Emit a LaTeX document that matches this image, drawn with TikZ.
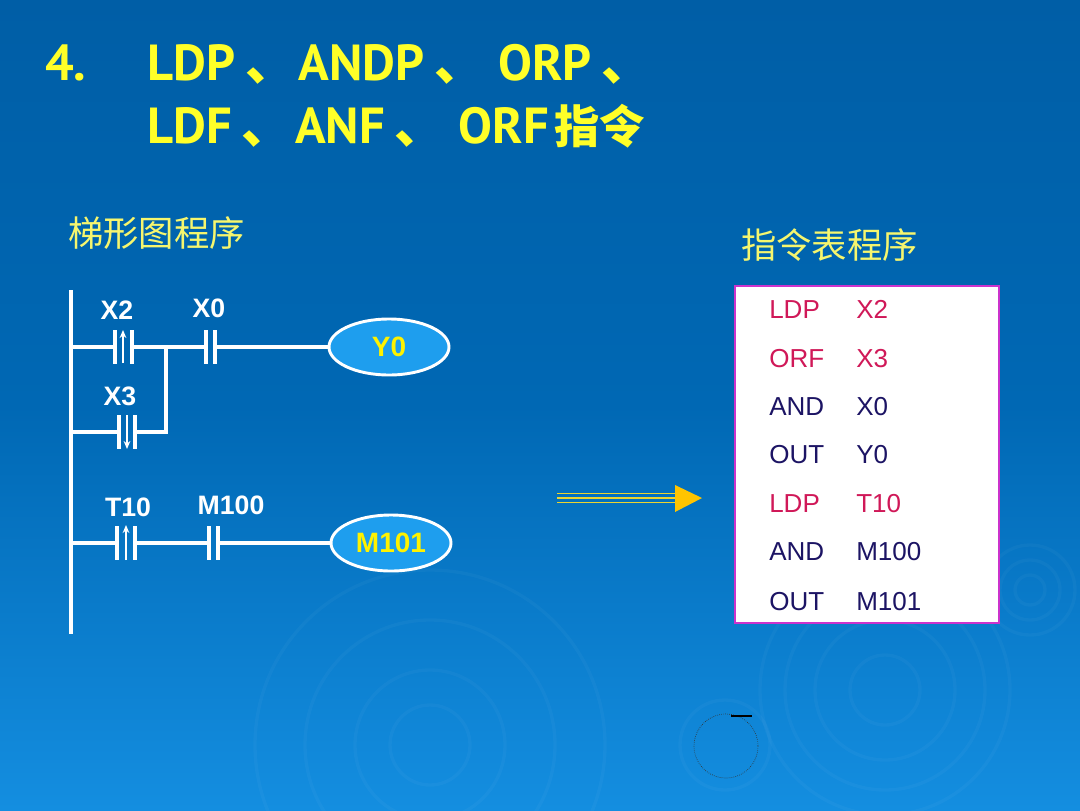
\documentclass[tikz,border=0pt]{standalone}
\usepackage{fontspec}
\setmainfont{Liberation Sans}
\newfontfamily\titlefont{PT Sans}
\newfontfamily\cjk{Noto Sans CJK SC}
\usepackage{tikz}
\usetikzlibrary{shapes.geometric,arrows.meta}
\definecolor{bgtop}{RGB}{0,94,166}
\definecolor{bgmid}{RGB}{0,104,180}
\definecolor{bgbot}{RGB}{20,142,224}
\definecolor{titleyellow}{RGB}{255,255,40}
\definecolor{subyellow}{RGB}{246,246,110}
\definecolor{coilblue}{RGB}{30,158,238}
\definecolor{instred}{RGB}{208,24,88}
\definecolor{instnavy}{RGB}{28,20,100}
\definecolor{tableframe}{RGB}{204,51,204}
\definecolor{arrowgold}{RGB}{255,196,0}
\definecolor{arrowline}{RGB}{236,212,48}
\def\contact(#1,#2,#3){\draw[plate] (#1,#3-17) -- (#1,#3+17); \draw[plate] (#2,#3-17) -- (#2,#3+17);}
\def\dun{\hspace{7.5pt}{\cjk 、}\hspace{2pt}}

\begin{document}
\begin{tikzpicture}[x=0.75pt, y=-0.75pt,
		wire/.style={white, line width=3pt},
		plate/.style={white, line width=3pt},
		edge/.style={white, line width=1.5pt, -{Stealth[length=6pt,width=5pt]}},
		lbl/.style={white, font=\bfseries\fontsize{20}{20}\selectfont, inner sep=0pt},
		coil/.style={ellipse, draw=white, line width=2.2pt, fill=coilblue, minimum width=90pt, minimum height=42pt, inner sep=0pt, text=yellow, font=\bfseries\fontsize{21}{21}\selectfont},
		ins/.style={anchor=base west, inner sep=0pt, font=\fontsize{19.5}{20}\selectfont},
		head/.style={anchor=base west, inner sep=0pt, text=titleyellow, font=\titlefont\bfseries\fontsize{38}{38}\selectfont},
		ripple/.style={white, opacity=0.03, line width=2.5pt}]
			%%%%% START %%%%%
			
			\shade[top color=bgtop, bottom color=bgbot, middle color=bgmid] (0,0) rectangle (1080,810);
			\useasboundingbox (0,0) rectangle (1080,810);
			
			% ripples
			\draw[ripple] (430,745) circle (40);
			\draw[ripple] (430,745) circle (75);
			\draw[ripple] (430,745) circle (125);
			\draw[ripple] (430,745) circle (175);
			\draw[ripple] (885,690) circle (35);
			\draw[ripple] (885,690) circle (70);
			\draw[ripple] (885,690) circle (100);
			\draw[ripple] (885,690) circle (125);
			\draw[ripple] (1030,590) circle (15);
			\draw[ripple] (1030,590) circle (30);
			\draw[ripple] (1030,590) circle (45);
			\draw[ripple] (725,745) circle (45);
			\draw[black!80, densely dotted, line width=0.5pt] (726,746) circle (32);
			\draw[black, line width=0.8pt] (731,716) -- (752,716);
			
			% title
			\node[head] (num) at (45,80) {4.};
			\node[head] (title1) at (147,80) {LDP\dun ANDP\dun\hspace{8pt}ORP\dun};
			\node[head] (title2) at (147,143) {LDF\dun ANF\dun\hspace{8pt}ORF\hspace{4pt}{\cjk\bfseries\fontsize{34}{34}\selectfont 指令}};
			
			\node[anchor=base west, inner sep=0pt, text=subyellow, font=\cjk\fontsize{26.5}{26.5}\selectfont] (ladhead) at (68,246) {梯形图程序};
			\node[anchor=base west, inner sep=0pt, text=subyellow, font=\cjk\fontsize{26.5}{26.5}\selectfont] (listhead) at (741,258) {指令表程序};
			
			% ladder
			\draw[wire] (71,290) -- (71,634);
			
			\node[coil] (y0) at (389,347) {Y0};
			\node[coil] (m101) at (391,543) {M101};
			
			\node[lbl] (lblX2) at (117,310) {X2};
			\node[lbl] (lblX0) at (209,308) {X0};
			\node[lbl] (lblX3) at (120,396) {X3};
			\node[lbl] (lblT10) at (128,507) {T10};
			\node[lbl] (lblM100) at (231,505) {M100};
			
			\contact(114.5,132,347)
			\draw[edge] (123,363) -- (123,330);
			\contact(205.5,215,347)
			\draw[wire] (71,347) -- (114.5,347);
			\draw[wire] (132,347) -- (205.5,347);
			\draw[wire] (215,347) -- (y0.west);
			
			\contact(118.5,135,432)
			\draw[edge] (127,415) -- (127,449);
			\draw[wire] (71,432) -- (118.5,432);
			\draw[wire] (135,432) -- (166,432) -- (166,347);
			
			\contact(117,135,543)
			\draw[edge] (126,560) -- (126,525);
			\contact(208.5,217.5,543)
			\draw[wire] (71,543) -- (117,543);
			\draw[wire] (135,543) -- (208.5,543);
			\draw[wire] (217.5,543) -- (m101.west);
			
			% arrow
			\coordinate (arrS) at (557,498);
			\coordinate (arrE) at (675,498);
			\draw[arrowline, line width=1.2pt] ([yshift=-3.5]arrS) -- ([yshift=-3.5]arrE);
			\draw[arrowline, line width=1.2pt] (arrS) -- (arrE);
			\draw[arrowline, line width=1.2pt] ([yshift=3.5]arrS) -- ([yshift=3.5]arrE);
			\fill[arrowgold] (675,485) -- (702,498) -- (675,512) -- cycle;
			
			% instruction list
			\draw[tableframe, fill=white, line width=1.5pt] (735,286) rectangle (999,623);
			
			\node[ins, text=instred] (i1) at (769,318) {LDP};
			\node[ins, text=instred] (a1) at (856,318) {X2};
			\node[ins, text=instred] (i2) at (769,367) {ORF};
			\node[ins, text=instred] (a2) at (856,367) {X3};
			\node[ins, text=instnavy] (i3) at (769,415) {AND};
			\node[ins, text=instnavy] (a3) at (856,415) {X0};
			\node[ins, text=instnavy] (i4) at (769,463) {OUT};
			\node[ins, text=instnavy] (a4) at (856,463) {Y0};
			\node[ins, text=instred] (i5) at (769,512) {LDP};
			\node[ins, text=instred] (a5) at (856,512) {T10};
			\node[ins, text=instnavy] (i6) at (769,560) {AND};
			\node[ins, text=instnavy] (a6) at (856,560) {M100};
			\node[ins, text=instnavy] (i7) at (769,610) {OUT};
			\node[ins, text=instnavy] (a7) at (856,610) {M101};
			
			%%%%% END %%%%%
\end{tikzpicture}
\end{document}
